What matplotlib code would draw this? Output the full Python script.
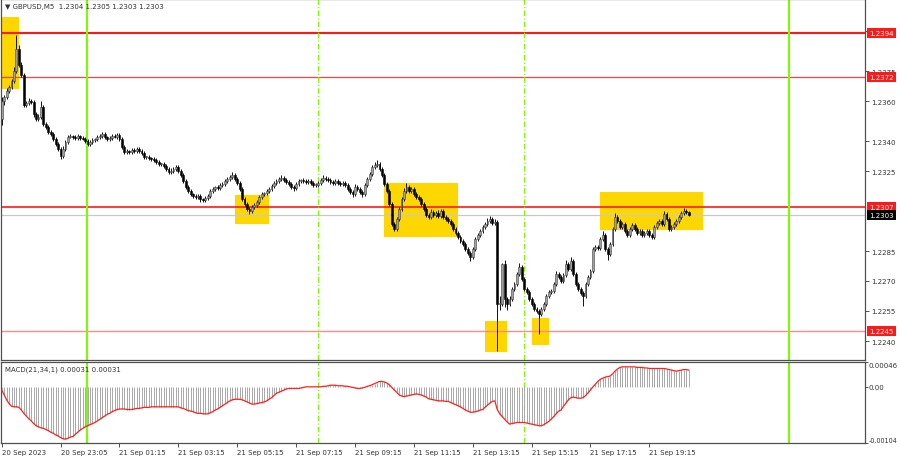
import matplotlib
matplotlib.use("Agg")
import matplotlib.pyplot as plt
import matplotlib.transforms as mtransforms
import numpy as np
from matplotlib.patches import Rectangle

# GBPUSD M5, цены в пунктах над базой 1.2200
BASE = 1.2200
PIP = 0.0001

first_open = 151
close_pips = [
    160, 162, 165, 167, 170, 175, 186, 178, 173, 158,
    159, 160, 159.5, 153.5, 151, 152, 157, 148.5, 147, 144.5,
    143.5, 141, 138.5, 136, 132.5, 136, 139.5, 142, 142.5, 142,
    141.5, 142.5, 141.5, 141, 140, 138.5, 139.5, 140.5, 141, 142,
    142.5, 143.5, 142, 141, 141.5, 142.5, 142, 143, 141, 137,
    134.5, 135, 134.5, 135.5, 135, 136, 135, 134, 132, 132,
    131.5, 131, 130.5, 129.5, 128.5, 128.5, 127.5, 126, 124.5, 125,
    126, 127, 125, 123, 120, 117, 115, 113.5, 112.5, 112,
    112.5, 111, 110.5, 111.5, 112.5, 115, 116, 117, 116.5, 118,
    118.5, 120, 121, 122, 123, 121, 119, 116, 111, 108.5,
    106, 105, 107, 108, 109.5, 112, 113.5, 114, 115, 116,
    117.5, 119, 120, 121, 121.5, 120.5, 119.5, 118.5, 117, 116.5,
    118.5, 120, 120.5, 120, 119.5, 120, 119, 118, 118, 119,
    120.5, 121.5, 121, 120.5, 119.5, 119, 120, 119, 118.5, 119,
    118, 116, 114.5, 113.5, 117, 116, 114.5, 113.5, 118, 121,
    123.5, 127, 128, 128.5, 126, 123, 118.5, 115, 108.5, 98.5,
    96, 101, 106, 111, 115, 117, 115, 116, 113.5, 112,
    111, 108.5, 106, 103, 102, 104.5, 103, 104, 102.5, 105,
    102, 101, 100, 98.5, 96, 94, 92, 90, 88.5, 86,
    84, 82, 86, 91, 93, 95, 97, 98.5, 100, 101,
    99, 99.5, 58.5, 58.5, 78.5, 61, 58.5, 61, 66, 68.5,
    73.5, 77, 71, 66, 64.5, 61, 58.5, 56, 55, 53.5,
    56, 58.5, 62.5, 64.5, 65, 68.5, 73.5, 72, 70, 73,
    78.5, 76, 80, 73.5, 68.5, 66, 64, 62.5, 68.5, 72,
    75, 86, 87, 86.5, 91, 93, 86, 83.5, 88.5, 96,
    102, 100, 97, 98.5, 95, 93, 96, 98, 96, 94,
    95, 93, 94, 95, 93, 92, 97, 99, 100, 98.5,
    103.5, 101, 96, 97, 98.5, 100, 102, 104, 105, 104.5,
    103,
]
upper_wick = [
    2, 1, 1.5, 1, 1, 2, 7, 2, 1.5, 1, 1, 1.5, 1, 1, 1, 1.5, 3, 1, 1, 1,
    1, 1, 1, 1, 1, 1.5, 1, 1, 1, 0.5, 1, 1, 0.5, 1, 1, 1, 1, 1, 0.5, 1,
    1, 1, 1, 0.5, 1, 1, 1, 1, 1, 1, 1, 1, 0.5, 1, 1, 1, 1, 1, 1, 0.5,
    1, 0.5, 1, 1, 1, 0.5, 1, 1, 1, 1.5, 1, 1, 1, 1, 1, 1, 1, 1, 0.5, 1,
    1, 1, 0.5, 1, 1, 1, 1, 0.5, 1, 1, 1, 1, 1, 1, 1.5, 1, 1, 1, 1, 1,
    1, 1, 1, 1, 1, 1, 1, 0.5, 1, 1, 1, 1, 1, 1, 1.5, 1, 1, 1, 1, 1,
    1, 1, 0.5, 1, 1, 1, 1, 1, 1, 1, 1, 1.5, 1, 1, 1, 1, 1, 1, 1, 1,
    1, 1, 1, 1, 1.5, 1, 1, 1, 1, 1, 1, 1, 1.5, 2, 1, 1, 1, 1, 1, 1,
    1, 1, 1, 1, 1.5, 2, 1, 1, 1, 1, 1, 1, 1, 1, 1, 1.5, 1, 1, 1.5, 1,
    1, 1, 1, 1, 1, 1, 1, 1, 1, 1, 1, 1, 1, 1, 1, 1, 1, 1, 1.5, 1.5,
    1, 1.5, 1, 4, 0.5, 2, 1, 1.5, 1, 1, 1, 2, 1, 1, 1, 1, 1, 1, 1, 1,
    1, 1, 1, 1, 1, 1, 1.5, 1, 1, 1, 2, 1, 2, 1, 1, 1, 1, 1, 1, 1,
    1, 1, 1, 1, 1, 2, 1, 1, 1, 1, 2, 1, 1, 1, 1, 1, 1, 1, 1, 1,
    1, 1, 1, 1, 1, 1, 1, 1, 1, 1, 1.5, 1, 1, 1, 1, 1, 1, 1, 1.5, 1,
    0.5,
]
lower_wick = [
    3, 2, 1, 1, 1, 1, 1, 1, 1, 1, 1, 1, 1, 1.5, 1, 1, 1, 1, 1, 1,
    1, 1, 1, 1, 1.5, 1, 1, 1, 0.5, 1, 1, 1, 1, 0.5, 1, 1, 1, 1, 1, 1,
    1, 1, 1, 1, 1, 1, 0.5, 1, 1, 1, 1, 1, 1, 1, 1, 1, 1, 1, 1, 1,
    1, 1, 1, 1, 1, 1, 1, 1, 1, 1, 1, 1, 1, 1, 1, 1, 1, 1, 1, 1,
    1, 1.5, 1, 1, 1, 1, 1, 1, 1, 1, 1, 1, 1, 1, 1, 1, 1, 1, 1, 1,
    1, 1.5, 1, 1, 1, 1, 1, 1, 1, 1, 1, 1, 1, 1, 1, 1, 1, 1, 1, 1.5,
    1, 1, 1, 1, 1, 1, 1, 1, 1, 1, 1, 1, 1, 1, 1, 1, 1, 1, 1, 1,
    1, 1, 1, 1.5, 1, 1, 1, 1.5, 1, 1, 1, 1, 1, 1, 1, 1, 1, 1, 1, 1,
    1, 1, 1, 1, 1, 1, 1, 1, 1, 1, 1, 1, 1, 1, 1, 1, 1, 1, 1, 1,
    1, 1, 1, 1, 1, 1, 1, 1, 1, 1, 1, 2, 1, 1, 1, 1, 1, 1, 1, 1,
    1, 1, 23.5, 3, 1, 4, 3, 1, 1, 1, 1, 1, 1, 1, 1, 1, 1, 1, 1, 10,
    1, 1, 1, 1, 1, 1, 1, 1, 1, 1, 1, 1, 1, 1, 1, 1, 1, 5, 1, 1,
    1, 1, 1, 1, 1, 1, 1, 3, 1, 1, 1, 1, 1, 1, 1, 1, 1, 1, 1, 1,
    1, 1, 1, 1, 1, 1, 1, 1, 1, 1, 1, 1, 1, 1, 1, 1, 1, 1, 1, 1,
    0.5,
]

# MACD(21,34,1) в единицах 1e-5
macd_pts = [
    -6, -15, -24, -31, -36, -37, -37, -38, -43, -49,
    -54, -59, -63, -68, -72, -74, -76, -77, -79, -81,
    -84, -86, -89, -91, -94, -96, -97, -95, -93, -92,
    -88, -84, -80, -77, -74, -72, -70, -68, -66, -63,
    -60, -57, -54, -51, -49, -46, -44, -42, -41, -41,
    -41, -42, -42, -42, -41, -40, -40, -39, -38, -38,
    -38, -37, -37, -37, -37, -37, -37, -37, -37, -37,
    -37, -37, -37, -39, -40, -42, -44, -45, -46, -48,
    -49, -49, -50, -50, -50, -48, -46, -43, -41, -38,
    -35, -32, -29, -26, -24, -23, -23, -23, -24, -26,
    -28, -30, -32, -32, -31, -30, -29, -28, -26, -23,
    -20, -16, -12, -10, -8, -6, -4, -3, -3, -3,
    -3, -3, -2, -1, 0, 0, 0, 0, 0, 0,
    0, 1, 1, 2, 3, 3, 3, 2, 2, 2,
    1, 1, 0, -1, -2, -3, -3, -2, -1, 1,
    2, 4, 6, 8, 10, 10, 9, 7, 4, -1,
    -6, -10, -15, -17, -18, -17, -16, -15, -14, -13,
    -14, -15, -17, -19, -22, -23, -24, -25, -26, -26,
    -26, -27, -27, -29, -31, -33, -35, -37, -40, -43,
    -45, -47, -47, -46, -45, -43, -42, -38, -34, -30,
    -27, -26, -42, -50, -55, -60, -65, -69, -68, -67,
    -66, -66, -66, -66, -67, -68, -69, -70, -71, -72,
    -72, -70, -67, -64, -60, -55, -50, -45, -43, -36,
    -30, -24, -20, -19, -20, -21, -21, -20, -16, -11,
    -6, 0, 5, 10, 14, 16, 18, 19, 20, 24,
    29, 33, 36, 37, 37, 37, 37, 37, 37, 36,
    36, 36, 35, 35, 34, 34, 34, 34, 34, 34,
    34, 33, 32, 31, 30, 29, 30, 31, 32, 32,
    31,
]

time_ticks = [0, 24, 48, 72, 96, 120, 144, 168, 192, 216, 240, 264]
time_labels = ["20 Sep 2023", "20 Sep 23:05", "21 Sep 01:15", "21 Sep 03:15",
               "21 Sep 05:15", "21 Sep 07:15", "21 Sep 09:15", "21 Sep 11:15",
               "21 Sep 13:15", "21 Sep 15:15", "21 Sep 17:15", "21 Sep 19:15"]
price_ticks = [1.2395, 1.2375, 1.2360, 1.2340, 1.2325, 1.2285, 1.2270, 1.2255, 1.2240]

levels = [1.2394, 1.2372, 1.2307, 1.2245]
bid_price = 1.2303

# зоны: (начальный бар, конечный бар, низ, верх)
zones = [
    (0.1, 7.1, 1.2366, 1.2402),
    (95.1, 109.0, 1.22985, 1.2313),
    (155.8, 186.0, 1.2292, 1.2319),
    (197.0, 206.0, 1.22345, 1.2250),
    (216.2, 223.1, 1.2238, 1.22515),
    (243.9, 286.0, 1.22955, 1.23145),
]
# вертикальные линии (бары): разделители дней и сессии
day_lines = [34.9, 320.9]
session_lines = [129.1, 213.0]

n = len(close_pips)
assert len(upper_wick) == n and len(lower_wick) == n and len(macd_pts) == n

closes = BASE + np.array(close_pips, dtype=float) * PIP
opens = np.r_[BASE + first_open * PIP, closes[:-1]]
highs = np.maximum(opens, closes) + np.array(upper_wick) * PIP
lows = np.minimum(opens, closes) - np.array(lower_wick) * PIP
macd = np.array(macd_pts) * 1e-5
x = np.arange(n)

FS = 5.0
TXT = "#333333"
plt.rcParams["font.family"] = ["DejaVu Sans"]

fig = plt.figure(figsize=(9, 4.6), dpi=100)
ax = fig.add_axes([1 / 900, 99 / 460, 864 / 900, 361 / 460])
ax2 = fig.add_axes([1 / 900, 16 / 460, 864 / 900, 81 / 460])

xmin, xmax = -0.285, 351.9
for a in (ax, ax2):
    a.set_xlim(xmin, xmax)
    for s in a.spines.values():
        s.set_color("#505050")
        s.set_linewidth(0.9)
    a.yaxis.tick_right()
    a.tick_params(axis="y", length=3, width=0.6, pad=1.5, labelsize=FS,
                  colors=TXT)

# --- основной график ---
ax.set_ylim(1.22305, 1.24110)
for x0, x1, lo, hi in zones:
    ax.add_patch(Rectangle((x0, lo), x1 - x0, hi - lo, facecolor="#FFD700",
                           edgecolor="none", zorder=1))

lvl_colors = ["#ff1a1a", "#ff4040", "#ff1a1a", "#ff8a8a"]
lvl_widths = [1.5, 0.9, 1.2, 1.0]
for lv, col, lw in zip(levels, lvl_colors, lvl_widths):
    ax.axhline(lv, color=col, lw=lw, zorder=2)
ax.axhline(bid_price, color="#c8c8c8", lw=0.9, zorder=2)

for v in day_lines:
    for a in (ax, ax2):
        a.axvline(v, color="#7CFC00", lw=1.5, zorder=2)
for v in session_lines:
    for a in (ax, ax2):
        a.axvline(v, color="#7CFC00", lw=0.8, ls=(0, (5, 2, 1, 2)), zorder=2)

# свечи
bull = closes >= opens
ax.vlines(x, lows, highs, color="#111111", lw=0.7, zorder=3)
body_lo = np.minimum(opens, closes)
body_h = np.maximum(np.abs(closes - opens), 0.3 * PIP)
ax.bar(x[bull], body_h[bull], bottom=body_lo[bull], width=0.75,
       facecolor="#a0a0a0", edgecolor="#404040", linewidth=0.4, zorder=4)
ax.bar(x[~bull], body_h[~bull], bottom=body_lo[~bull], width=0.75,
       facecolor="black", edgecolor="black", linewidth=0.4, zorder=4)

ax.set_xticks([])
ax.set_yticks(price_ticks)
ax.set_yticklabels([f"{p:.4f}" for p in price_ticks])

# метки уровней справа
tr = mtransforms.blended_transform_factory(ax.transAxes, ax.transData)
for lv in levels:
    ax.text(1.0191, lv, f"{lv:.4f}", transform=tr, ha="center", va="center",
            fontsize=FS, color="white", clip_on=False, zorder=10,
            bbox=dict(boxstyle="square,pad=0.35", facecolor="#ff1a1a",
                      edgecolor="none"))
ax.text(1.0191, bid_price, f"{bid_price:.4f}", transform=tr, ha="center",
        va="center", fontsize=FS, color="white", clip_on=False, zorder=10,
        bbox=dict(boxstyle="square,pad=0.35", facecolor="black",
                  edgecolor="none"))

fig.text(5 / 900, 1 - 7 / 460, "▼ GBPUSD,M5  1.2304 1.2305 1.2303 1.2303",
         fontsize=FS, color=TXT, va="center", ha="left")

# --- MACD ---
ax2.set_ylim(-0.00104, 0.00046)
ax2.vlines(x, 0, macd, color="#a8a8a8", lw=0.7, zorder=3)
ax2.plot(x, macd, color="#ff2020", lw=0.9, zorder=4)
ax2.set_yticks([0.00046, 0.0, -0.00104])
ax2.set_yticklabels(["0.00046", "0.00", "-0.00104"])
ax2.tick_params(axis="y", length=2, pad=0.5)
lbls = ax2.get_yticklabels()
lbls[0].set_va("top")
lbls[2].set_va("bottom")
lbls[2].set_fontsize(4.7)
ax2.text(4 / 864, 1 - 7 / 81, "MACD(21,34,1) 0.00031 0.00031",
         transform=ax2.transAxes, fontsize=FS, color=TXT, va="center")

ax2.set_xticks(time_ticks)
ax2.set_xticklabels(time_labels, ha="left")
ax2.tick_params(axis="x", length=3, width=0.6, pad=1.5, labelsize=FS,
                colors=TXT)

fig.savefig("out.png", dpi=100)
